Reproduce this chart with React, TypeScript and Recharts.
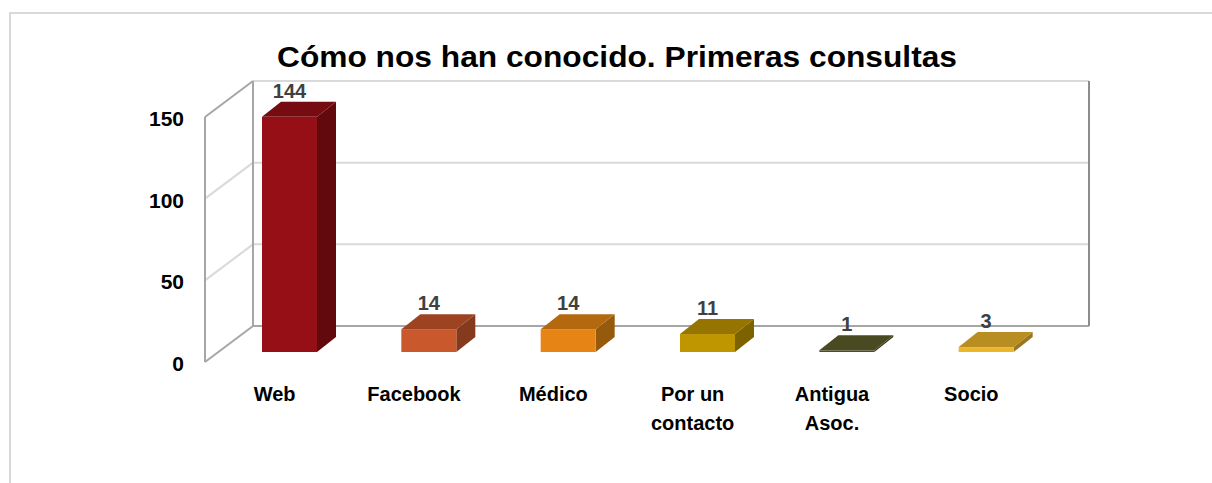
import { Bar, BarChart, LabelList, XAxis, YAxis } from "recharts";

const categories = ["Web", "Facebook", "Médico", "Por un contacto", "Antigua Asoc.", "Socio"];
const tickLines = [["Web"], ["Facebook"], ["Médico"], ["Por un", "contacto"], ["Antigua", "Asoc."], ["Socio"]];
const values = [144, 14, 14, 11, 1, 3];
const yTicks = [0, 50, 100, 150];

// front / top / side shades for each column
const frontColors = ["#960F16", "#C9582D", "#E68415", "#BF9600", "#4C4C25", "#EBB62C"];
const topColors = ["#760B11", "#9D4322", "#B5690F", "#957500", "#4A4A22", "#B88D22"];
const sideColors = ["#62090D", "#843A1D", "#965A0C", "#7D6300", "#3A3A1A", "#9A7620"];

const data = categories.map((name, i) => ({ name, value: values[i] }));

const W = 1212;
const H = 483;
const PLOT_LEFT = 205;
const PLOT_RIGHT = 1041;
const PLOT_TOP = 117;
const PLOT_BOTTOM = 362;
const MAX = 150;
// wall depth, and where the columns sit inside it
const DEPTH_X = 48;
const DEPTH_Y = -36;
const BAR_SHIFT_X = 15;
const BAR_SHIFT_Y = -10;
const BAR_DX = 19;
const BAR_DY = -15;

const FONT = "'Liberation Sans', Arial, sans-serif";

const yPos = (v: number) => PLOT_BOTTOM - (v / MAX) * (PLOT_BOTTOM - PLOT_TOP);

const Walls = () => {
  const light = "#d9d9d9";
  const mid = "#a6a6a6";
  const bx = PLOT_LEFT + DEPTH_X;
  const bRight = PLOT_RIGHT + DEPTH_X;
  return (
    <svg width={W} height={H} style={{ position: "absolute", left: 0, top: 0 }}>
      <rect x={10} y={13} width={1400} height={700} fill="#fff" stroke="#d9d9d9" strokeWidth={2} />
      {yTicks.slice(1).map((t) => {
        const y = yPos(t);
        return (
          <g key={t}>
            <line x1={PLOT_LEFT} y1={y} x2={bx} y2={y + DEPTH_Y} stroke={t === MAX ? mid : light} strokeWidth={2} />
            <line x1={bx} y1={y + DEPTH_Y} x2={bRight} y2={y + DEPTH_Y} stroke={light} strokeWidth={2} />
          </g>
        );
      })}
      <line x1={PLOT_LEFT} y1={PLOT_BOTTOM} x2={bx} y2={PLOT_BOTTOM + DEPTH_Y} stroke={mid} strokeWidth={2} />
      <line x1={bx} y1={PLOT_BOTTOM + DEPTH_Y} x2={bRight} y2={PLOT_BOTTOM + DEPTH_Y} stroke={mid} strokeWidth={2} />
      <line x1={PLOT_LEFT} y1={PLOT_TOP} x2={PLOT_LEFT} y2={PLOT_BOTTOM} stroke={mid} strokeWidth={2} />
      <line x1={bx} y1={PLOT_TOP + DEPTH_Y} x2={bx} y2={PLOT_BOTTOM + DEPTH_Y} stroke={mid} strokeWidth={2} />
      <line x1={bRight} y1={PLOT_TOP + DEPTH_Y} x2={bRight} y2={PLOT_BOTTOM + DEPTH_Y} stroke="#8c8c8c" strokeWidth={2} />
      <text
        x={617}
        y={67}
        textAnchor="middle"
        fontFamily={FONT}
        fontWeight="bold"
        fontSize={29}
        textLength={680}
        lengthAdjust="spacingAndGlyphs"
        fill="#000"
      >
        Cómo nos han conocido. Primeras consultas
      </text>
    </svg>
  );
};

const Column = (props: any) => {
  const { x, y, width, height, index } = props;
  const x0 = x + BAR_SHIFT_X;
  const y0 = y + BAR_SHIFT_Y;
  const x1 = x0 + width;
  const y1 = y0 + height;
  const top = `${x0},${y0} ${x0 + BAR_DX},${y0 + BAR_DY} ${x1 + BAR_DX},${y0 + BAR_DY} ${x1},${y0}`;
  const side = `${x1},${y0} ${x1 + BAR_DX},${y0 + BAR_DY} ${x1 + BAR_DX},${y1 + BAR_DY} ${x1},${y1}`;
  return (
    <g>
      <polygon points={side} fill={sideColors[index]} />
      <polygon points={top} fill={topColors[index]} />
      <rect x={x0} y={y0} width={width} height={Math.max(height, 0.5)} fill={frontColors[index]} />
    </g>
  );
};

const ValueLabel = (props: any) => {
  const { x, y, width, value } = props;
  return (
    <text
      x={x + width / 2 + BAR_SHIFT_X}
      y={y + BAR_SHIFT_Y - 19}
      textAnchor="middle"
      fontFamily={FONT}
      fontWeight="bold"
      fontSize={20}
      fill="#404040"
    >
      {value}
    </text>
  );
};

const YTick = (props: any) => {
  const { y, payload } = props;
  return (
    <text x={184} y={y + 9} textAnchor="end" fontFamily={FONT} fontWeight="bold" fontSize={21} fill="#000">
      {payload.value}
    </text>
  );
};

const XTick = (props: any) => {
  const { x, index } = props;
  const lines = tickLines[index] ?? [];
  return (
    <text textAnchor="middle" fontFamily={FONT} fontWeight="bold" fontSize={20} fill="#000">
      {lines.map((l, i) => (
        <tspan key={i} x={x} y={401 + i * 29}>
          {l}
        </tspan>
      ))}
    </text>
  );
};

export default function App() {
  return (
    <div style={{ position: "absolute", left: 0, top: 0, width: W, height: H, background: "#fff" }}>
      <Walls />
      <div style={{ position: "absolute", left: 0, top: 0 }}>
        <BarChart
          width={W}
          height={H}
          data={data}
          margin={{ top: PLOT_TOP, left: PLOT_LEFT - 60, right: W - PLOT_RIGHT, bottom: H - PLOT_BOTTOM - 60 }}
        >
          <XAxis dataKey="name" height={60} axisLine={false} tickLine={false} interval={0} tick={<XTick />} />
          <YAxis
            width={60}
            domain={[0, MAX]}
            ticks={yTicks}
            axisLine={false}
            tickLine={false}
            tick={<YTick />}
          />
          <Bar dataKey="value" barSize={55} shape={<Column />} isAnimationActive={false}>
            <LabelList dataKey="value" content={<ValueLabel />} />
          </Bar>
        </BarChart>
      </div>
    </div>
  );
}
